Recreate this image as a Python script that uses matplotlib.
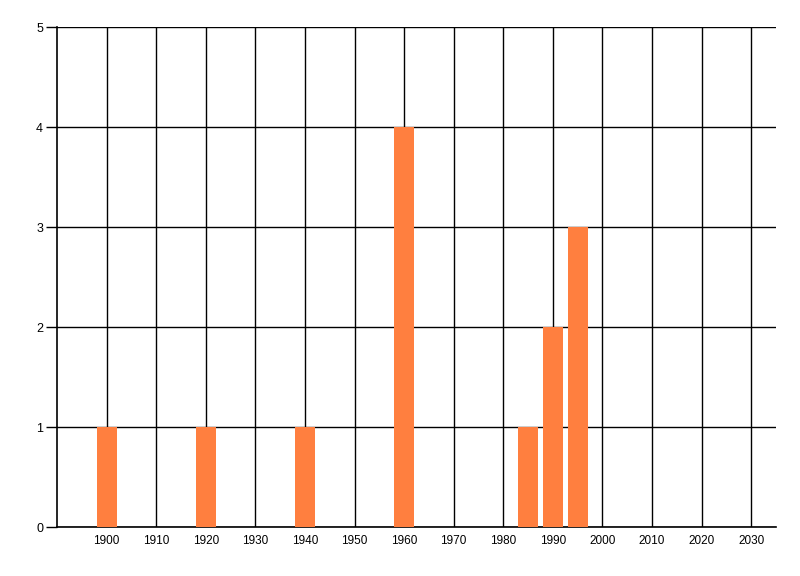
import matplotlib
matplotlib.use("Agg")
import matplotlib.pyplot as plt

plt.rcParams['font.family'] = ['Liberation Sans', 'DejaVu Sans']

years = [1900, 1920, 1940, 1960, 1985, 1990, 1995]
counts = [1, 1, 1, 4, 1, 2, 3]
xticks = list(range(1900, 2031, 10))
yticks = [0, 1, 2, 3, 4, 5]

fig = plt.figure(figsize=(8, 5.76), dpi=100)
ax = fig.add_axes([0.07125, 0.085, 0.8988, 0.868])

ax.bar(years, counts, width=4, color='#FF7F3F', zorder=3)

ax.set_xlim(1890, 2035)
ax.set_ylim(0, 5)
ax.set_xticks(xticks)
ax.set_yticks(yticks)
ax.tick_params(axis='x', length=0, labelsize=8.5, pad=6)
ax.tick_params(axis='y', length=8, width=1, labelsize=9, pad=2)
ax.grid(True, color='black', linewidth=1, zorder=0)
ax.set_axisbelow(True)

for s in ['top', 'right']:
    ax.spines[s].set_visible(False)
for s in ['left', 'bottom']:
    ax.spines[s].set_color('black')
    ax.spines[s].set_linewidth(1.2)

fig.savefig('out.png', dpi=100)
